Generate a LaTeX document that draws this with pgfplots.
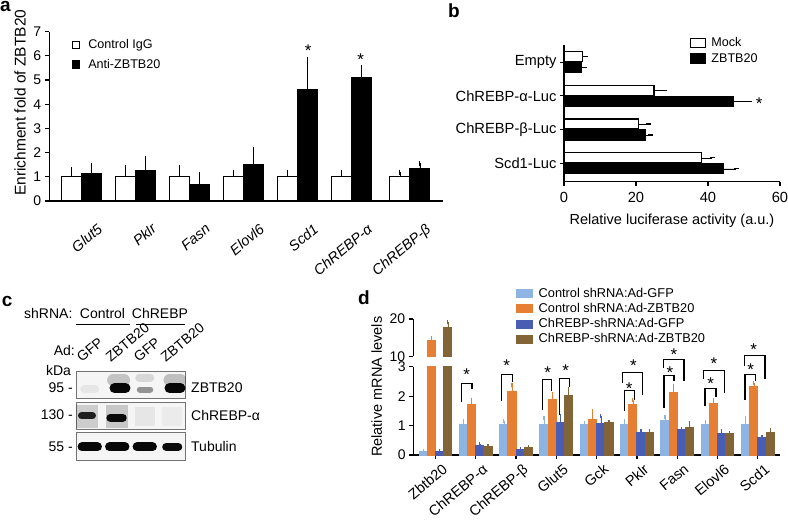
\documentclass[border=0pt]{standalone}
\usepackage{fontspec}
\setmainfont{Liberation Sans}
\usepackage{pgfplots}
\usepackage{pgfplotstable}
\pgfplotsset{compat=1.18}
\definecolor{cLB}{RGB}{141,180,226}
\definecolor{cOR}{RGB}{230,126,51}
\definecolor{cDB}{RGB}{74,93,181}
\definecolor{cBR}{RGB}{130,100,55}
\newcommand{\fs}[1]{\fontsize{#1}{#1}\selectfont}
\pgfplotstableread{
x c ce a ae
0 1 0.29 1.14 0.32
1 1 0.40 1.25 0.51
2 1 0.40 0.69 0.42
3 1 0.19 1.50 0.61
4 1 0.19 4.61 1.25
5 1 0.19 5.09 0.41
6.08 1 0.19 1.35 0.21
}\tabA
\pgfplotstableread{
y m me z ze
3 5.2 0.8 4.8 0.8
2 25.0 3.0 47.0 4.4
1 20.8 2.6 22.7 1.4
0 38.2 3.0 44.3 3.5
}\tabB
\pgfplotstableread{
x lb lbe or ore db dbe br bre
0 0.12 0.03 14.3 0.7 0.12 0.03 17.7 1.5
1 1.03 0.13 1.71 0.17 0.32 0.06 0.29 0.02
2 1.03 0.11 2.15 0.24 0.20 0.02 0.25 0.02
3 1.03 0.23 1.88 0.20 1.12 0.19 2.02 0.21
4 1.03 0.07 1.20 0.28 1.08 0.23 1.09 0.04
5 1.03 0.11 1.71 0.15 0.78 0.03 0.77 0.03
6 1.16 0.12 2.11 0.25 0.86 0.03 0.94 0.14
7 1.03 0.09 1.75 0.11 0.72 0.08 0.73 0.02
8 1.05 0.20 2.32 0.11 0.59 0.02 0.77 0.08
}\tabD
\pgfplotsset{
  myaxis/.style={scale only axis, anchor=south west,
    axis x line*=bottom, axis y line*=left,
    axis line style={line width=1.2pt,black},
    every tick/.style={line width=1.2pt,black},
    tick align=outside, major tick length=4.5pt,
    /pgf/number format/assume math mode=true,
    tick label style={font=\fs{14}},
    legend cell align=left,
  },
  blot/.style={scale only axis, anchor=south west, width=110pt,
    xmin=0.5, xmax=4.5, ymin=0, ymax=1, ticks=none,
    axis line style={line width=1pt, black!55},
    axis background/.style={fill=black!4}},
  band/.style={line cap=round, black},
}
\newcommand{\brk}[5]{\draw[line width=1.2pt] (axis cs:#1,#3) -- (axis cs:#1,#5) -- (axis cs:#2,#5) -- (axis cs:#2,#4);}
\newcommand{\st}[2]{\node[font=\fs{17}, inner sep=0pt, anchor=north] at (axis cs:#1,#2) {*};}
\begin{document}
\begin{tikzpicture}[x=1pt,y=1pt]
\path[use as bounding box] (0,0) rectangle (788,520);
% ---------------- panel a
\begin{axis}[myaxis, at={(49.3pt,319pt)}, width=394pt, height=169.4pt,
  xmin=-0.6, xmax=6.7, ymin=0, ymax=7,
  ybar, bar width=20pt,
  xtick={0,1,2,3,4,5,6.08},
  xticklabels={Glut5,Pklr,Fasn,Elovl6,Scd1,ChREBP-α,ChREBP-β},
  x tick style={draw=none},
  xticklabel style={font=\fs{14.5}\itshape, xshift=15pt, yshift=-17pt, rotate=40, anchor=north east, inner sep=0pt},
  ytick={0,...,7},
  ylabel={Enrichment fold of ZBTB20},
  ylabel style={font=\fs{15.5}, at={(axis description cs:-0.074,0.58)}, anchor=center},
  error bars/y dir=plus, error bars/y explicit,
  error bars/error mark options={line width=1.2pt, mark size=2.5pt},
  legend style={at={(axis description cs:0.056,0.965)}, anchor=north west, draw=none, fill=none,
     font=\fs{12.6}, inner sep=0pt, row sep=5pt, nodes={inner sep=2pt},
     /tikz/every odd column/.append style={column sep=6pt}},
  legend image code/.code={\draw[#1, line width=1.3pt] (0pt,-3.7pt) rectangle (7.4pt,3.7pt);},
]
\addplot[fill=white, draw=black, line width=1.2pt, bar shift=-10pt] table[x=x, y=c, y error=ce] {\tabA};
\addplot[fill=black, draw=black, line width=1.2pt, bar shift=10pt] table[x=x, y=a, y error=ae] {\tabA};
\legend{Control IgG, Anti-ZBTB20}
\st{4.196}{6.45}
\st{5.17}{6.10}
\end{axis}
% ---------------- panel b
\begin{axis}[myaxis, at={(564pt,338.3pt)}, width=216pt, height=136.7pt,
  xbar, bar width=10pt,
  xmin=0, xmax=60, ymin=-0.546, ymax=3.51,
  xtick={0,20,40,60},
  ytick={0,1,2,3}, yticklabels={Scd1-Luc, ChREBP-β-Luc, ChREBP-α-Luc, Empty},
  tick label style={font=\fs{14.7}},
  xticklabel style={yshift=-3pt},
  major tick length=4pt,
  xlabel={Relative luciferase activity (a.u.)}, xlabel style={font=\fs{14.5}, yshift=-4pt},
  error bars/x dir=plus, error bars/x explicit,
  error bars/error mark options={line width=1.2pt, mark size=2.5pt},
  legend style={at={(axis description cs:0.583,1.07)}, anchor=north west, draw=none, fill=none,
     font=\fs{12.6}, inner sep=0pt, row sep=1pt, nodes={inner sep=2pt},
     /tikz/every odd column/.append style={column sep=3pt}},
  legend image code/.code={\draw[#1, line width=1.3pt] (0pt,-4.5pt) rectangle (15pt,4.5pt);},
]
\addplot[fill=white, draw=black, line width=1.2pt, bar shift=5.5pt] table[x=m, y=y, x error=me] {\tabB};
\addplot[fill=black, draw=black, line width=1.2pt, bar shift=-5.5pt] table[x=z, y=y, x error=ze] {\tabB};
\legend{Mock, ZBTB20}
\st{54.2}{1.94}
\end{axis}
% ---------------- panel c (blots)
\begin{axis}[blot, at={(76pt,121.7pt)}, height=26.6pt]
\addplot[band, line width=8pt, opacity=0.06] coordinates {(0.8,0.35)(1.2,0.35)};
\addplot[band, line width=12pt, opacity=0.2] coordinates {(1.85,0.68)(2.25,0.68)};
\addplot[band, line width=10pt, opacity=0.97] coordinates {(1.9,0.38)(2.3,0.38)};
\addplot[band, line width=8pt, opacity=0.12] coordinates {(2.8,0.78)(3.2,0.78)};
\addplot[band, line width=6pt, opacity=0.4] coordinates {(2.82,0.33)(3.2,0.33)};
\addplot[band, line width=12pt, opacity=0.22] coordinates {(3.9,0.68)(4.3,0.68)};
\addplot[band, line width=10pt, opacity=0.97] coordinates {(3.9,0.38)(4.3,0.38)};
\end{axis}
\begin{axis}[blot, at={(76pt,90pt)}, height=27.3pt]
\addplot[black, line width=22pt, opacity=0.16] coordinates {(0.9,0.08)(0.9,0.92)};
\addplot[black, line width=22pt, opacity=0.18] coordinates {(2.0,0.08)(2.0,0.92)};
\addplot[band, line width=7pt, opacity=0.85] coordinates {(0.7,0.52)(1.1,0.52)};
\addplot[band, line width=8pt, opacity=0.95] coordinates {(1.75,0.45)(2.2,0.45)};
\addplot[black, line width=20pt, opacity=0.06] coordinates {(3,0.15)(3,0.85)};
\addplot[black, line width=20pt, opacity=0.04] coordinates {(4,0.15)(4,0.85)};
\end{axis}
\begin{axis}[blot, at={(76pt,59pt)}, height=28.3pt]
\addplot[band, line width=9pt, opacity=0.97] coordinates {(0.72,0.5)(1.28,0.5)};
\addplot[band, line width=9pt, opacity=0.97] coordinates {(1.72,0.5)(2.28,0.5)};
\addplot[band, line width=9pt, opacity=0.97] coordinates {(2.72,0.5)(3.28,0.5)};
\addplot[band, line width=8pt, opacity=0.95] coordinates {(3.78,0.5)(4.22,0.5)};
\end{axis}
\begin{scope}[font=\fs{14}]
\node[anchor=west, inner sep=0pt] at (24,207) {shRNA:};
\node[inner sep=0pt] at (102.5,207) {Control};
\node[inner sep=0pt] at (160,207) {ChREBP};
\draw[line width=1pt] (76,195) -- (130,195);
\draw[line width=1pt] (136,195) -- (185,195);
\node[anchor=east, inner sep=0pt] at (75,170) {Ad:};
\node[anchor=south west, rotate=40, inner sep=0pt] at (82,157) {GFP};
\node[anchor=south west, rotate=40, inner sep=0pt] at (111,157) {ZBTB20};
\node[anchor=south west, rotate=40, inner sep=0pt] at (139,157) {GFP};
\node[anchor=south west, rotate=40, inner sep=0pt] at (166,157) {ZBTB20};
\node[inner sep=0pt] at (58.5,150) {kDa};
\node[anchor=east, inner sep=0pt] at (73,132) {95 -};
\node[anchor=east, inner sep=0pt] at (73,105.7) {130 -};
\node[anchor=east, inner sep=0pt] at (73,73.3) {55 -};
\node[anchor=west, inner sep=0pt] at (191,132) {ZBTB20};
\node[anchor=west, inner sep=0pt] at (191,105) {ChREBP-α};
\node[anchor=west, inner sep=0pt] at (191,73.3) {Tubulin};
\end{scope}
% ---------------- panel d (upper part)
\begin{axis}[myaxis, at={(413.3pt,163.7pt)}, width=366.7pt, height=37.3pt,
  axis x line=none,
  ybar, bar width=8.2pt,
  xmin=-0.55, xmax=8.55, ymin=10, ymax=20,
  ytick={10,20}, xtick=\empty,
  error bars/y dir=plus, error bars/y explicit,
  error bars/error mark options={line width=1.2pt, mark size=2pt},
]
\addplot[cOR, fill=cOR, line width=1pt, bar shift=-4.1pt, skip coords between index={1}{9}] table[x=x, y=or, y error=ore] {\tabD};
\addplot[cBR, fill=cBR, line width=1pt, bar shift=12.3pt, skip coords between index={1}{9}] table[x=x, y=br, y error=bre] {\tabD};
\end{axis}
% ---------------- panel d (lower part)
\begin{axis}[myaxis, at={(413.3pt,65pt)}, width=366.7pt, height=88.3pt,
  ybar, bar width=8.2pt,
  xmin=-0.55, xmax=8.55, ymin=0, ymax=3,
  clip mode=individual,
  xtick={0,...,8},
  xticklabels={Zbtb20,ChREBP-α,ChREBP-β,Glut5,Gck,Pklr,Fasn,Elovl6,Scd1},
  xticklabel style={font=\fs{14.5}, xshift=6pt, yshift=-4pt, rotate=40, anchor=north east, inner sep=0pt},
  major tick length=4pt,
  ytick={0,1,2,3},
  ylabel={Relative mRNA levels},
  ylabel style={font=\fs{14.5}, at={(axis description cs:-0.0998,0.773)}, anchor=center},
  error bars/y dir=plus, error bars/y explicit,
  error bars/error mark options={line width=1.2pt, mark size=2pt},
  legend style={at={(axis description cs:0.28,1.905)}, anchor=north west, draw=none, fill=none,
     font=\fs{12.8}, inner sep=0pt, row sep=1.3pt, nodes={inner sep=1.5pt},
     /tikz/every odd column/.append style={column sep=4pt}},
  legend image code/.code={\fill[#1] (0pt,-4pt) rectangle (16pt,4pt);},
]
\addplot[cLB, fill=cLB, line width=1pt, bar shift=-12.3pt] table[x=x, y=lb, y error=lbe] {\tabD};
\addplot[cOR, fill=cOR, line width=1pt, bar shift=-4.1pt] table[x=x, y=or, y error=ore] {\tabD};
\addplot[cDB, fill=cDB, line width=1pt, bar shift=4.1pt] table[x=x, y=db, y error=dbe] {\tabD};
\addplot[cBR, fill=cBR, line width=1pt, bar shift=12.3pt] table[x=x, y=br, y error=bre] {\tabD};
\legend{Control shRNA:Ad-GFP, Control shRNA:Ad-ZBTB20, ChREBP-shRNA:Ad-GFP, ChREBP-shRNA:Ad-ZBTB20}
\brk{0.65}{0.906}{1.80}{2.23}{2.43}
\brk{1.643}{1.906}{1.83}{2.48}{2.74}
\brk{2.65}{2.883}{1.54}{2.17}{2.57}
\brk{3.072}{3.32}{1.37}{2.32}{2.60}
\brk{4.70}{4.933}{1.48}{1.88}{2.19}
\brk{4.64}{5.14}{2.45}{2.05}{2.80}
\brk{5.67}{5.918}{1.60}{2.51}{2.70}
\brk{5.65}{6.166}{2.97}{2.51}{3.25}
\brk{6.687}{6.96}{1.66}{1.97}{2.26}
\brk{6.66}{7.18}{2.57}{2.11}{2.88}
\brk{7.68}{7.945}{1.88}{2.51}{2.74}
\brk{7.66}{8.176}{3.02}{2.57}{3.37}
\st{0.774}{2.93}
\st{1.767}{3.25}
\st{2.784}{3.02}
\st{3.23}{3.06}
\st{4.81}{2.45}
\st{4.91}{3.25}
\st{5.82}{3.02}
\st{5.92}{3.61}
\st{6.83}{2.62}
\st{6.91}{3.31}
\st{7.82}{3.11}
\st{7.90}{3.80}
\end{axis}
% ---------------- panel letters
\begin{scope}[font=\fs{19}\bfseries]
\node[anchor=south west, inner sep=0pt] at (0,508.3) {a};
\node[anchor=south west, inner sep=0pt] at (448,501.7) {b};
\node[anchor=south west, inner sep=0pt] at (1.7,213.3) {c};
\node[anchor=south west, inner sep=0pt] at (358,215) {d};
\end{scope}
\end{tikzpicture}
\end{document}
